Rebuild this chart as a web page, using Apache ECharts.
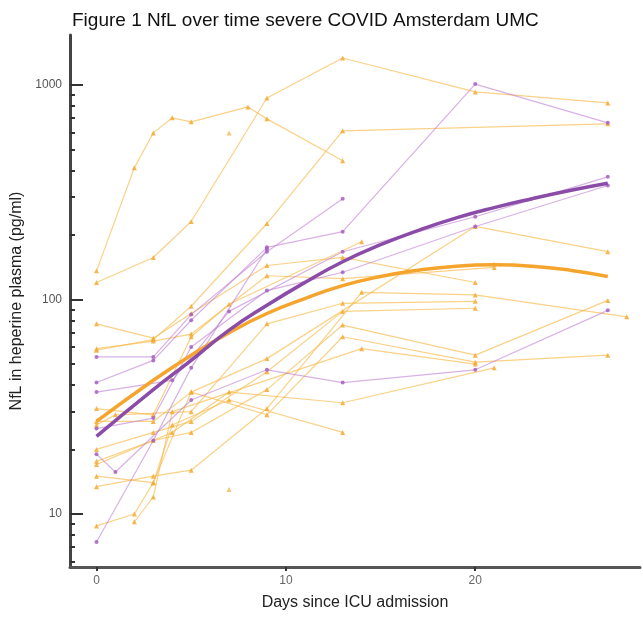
<!DOCTYPE html>
<html><head><meta charset="utf-8">
<script src="https://cdn.jsdelivr.net/npm/echarts@6/dist/echarts.min.js"></script>
<style>html,body{margin:0;padding:0;background:#fff}#c{width:643px;height:617px}</style>
</head><body><div id="c"></div>
<script>
const titleText = 'Figure 1 NfL over time severe COVID Amsterdam UMC';
const xTitle = 'Days since ICU admission';
const yTitle = 'NfL in heperine plasma (pg/ml)';
const xTicks = [0, 10, 20];
const yTicks = [10, 100, 1000];
const yMinor = [6,7,8,9,20,30,40,50,60,70,80,90,200,300,400,500,600,700,800,900];

// individual patients, orange group: [day, NfL]
const orangeTracks = [
  [[0,136],[2,411],[3,598],[4,703],[5,673],[8,790],[9,695],[13,443]],
  [[0,120],[3,157],[5,231],[9,870],[13,1336],[20,928],[27,825]],
  [[0,58],[3,65],[5,93],[9,226],[13,611],[27,659]],
  [[0,13.4],[3,15],[5,16],[9,31],[14,108],[20,105],[28,83]],
  [[0,77],[3,66],[5,86],[9,144],[13,157],[20,120]],
  [[0,59],[3,64],[5,69],[9,129],[13,125],[21,141]],
  [[0,31],[3,29],[5,67],[7,95],[14,186]],
  [[0,27],[3,27],[5,37],[9,53],[20,219],[27,167]],
  [[0,26],[1,29],[5,30],[9,77],[13,96],[20,98]],
  [[0,20],[3,24],[5,27],[9,46],[13,88],[20,91]],
  [[0,17.6],[3,22],[5,24],[9,38],[13,76],[20,55],[27,99]],
  [[0,17],[4,24],[7,37],[13,33],[21,48]],
  [[0,15],[3,14],[4,26],[7,34],[13,24]],
  [[0,8.8],[2,10],[3,14],[5,37],[9,29],[13,67],[20,51],[27,55]],
  [[2,9.2],[3,12],[4,30],[14,59],[20,50]]
];
const orangeSingles = [[7,598],[7,13],[21,146]];

// individual patients, purple group
const purpleTracks = [
  [[0,41],[3,52],[5,80],[9,175],[13,207],[20,1010],[27,666]],
  [[0,54],[3,54],[5,85],[9,167],[13,295]],
  [[0,25],[3,28],[5,60],[9,110],[13,134],[20,219],[27,340]],
  [[0,37],[4,42],[7,88],[13,167],[20,243],[27,373]],
  [[0,19],[1,15.7],[5,34],[9,47],[13,41],[20,47],[27,89]],
  [[0,7.4],[3,22],[5,48],[9,172]]
];

// group trend curves
const orangeFit = [[0,27],[3,42],[5,55],[7,70],[9,86],[11,101],[13,116],[15,128],[17,137],[19,143],[21,145],[23,143],[25,137],[27,128]];
const purpleFit = [[0,23],[3,38],[5,52],[7,72],[9,94],[11,120],[13,150],[15,180],[17,210],[19,240],[21,268],[23,295],[25,322],[27,348]];

const oLine = 'rgba(247,184,70,0.65)', oPt = 'rgba(245,170,50,0.85)';
const pLine = 'rgba(190,125,210,0.6)', pPt = 'rgba(165,95,190,0.85)';
const font = 'Liberation Sans';

const series = [];
orangeTracks.forEach(t => series.push({type:'line', data:t, symbol:'triangle', symbolSize:5,
  lineStyle:{color:oLine, width:1.2}, itemStyle:{color:oPt}, silent:true, z:2}));
series.push({type:'scatter', data:orangeSingles, symbol:'triangle', symbolSize:5, itemStyle:{color:oPt}, silent:true, z:2});
purpleTracks.forEach(t => series.push({type:'line', data:t, symbol:'circle', symbolSize:4,
  lineStyle:{color:pLine, width:1.2}, itemStyle:{color:pPt}, silent:true, z:3}));
series.push({type:'line', data:orangeFit, smooth:true, showSymbol:false, lineStyle:{color:'#F5A52E', width:3.5}, silent:true, z:4});
series.push({type:'line', data:purpleFit, smooth:true, showSymbol:false, lineStyle:{color:'#8A4CA8', width:3.5}, silent:true, z:5});

const chart = echarts.init(document.getElementById('c'), null, {renderer:'canvas'});
chart.setOption({
  animation:false,
  backgroundColor:'#fff',
  title:{text:titleText, left:67, top:6, textStyle:{fontSize:19, fontWeight:'normal', color:'#111', fontFamily:font}},
  grid:{left:70, right:3, top:35, bottom:50, containLabel:false},
  xAxis:{type:'value', min:-1.4, max:28.7,
    axisLine:{onZero:false, lineStyle:{color:'#555', width:3}},
    axisTick:{customValues:xTicks, length:4, lineStyle:{color:'#333', width:2}},
    axisLabel:{customValues:xTicks, color:'#666', fontSize:12, margin:8, fontFamily:font},
    splitLine:{show:false},
    name:xTitle, nameLocation:'middle', nameGap:28, nameTextStyle:{fontSize:16, color:'#222', fontFamily:font}},
  yAxis:[{type:'log', logBase:10, min:5.66, max:1710,
    axisLine:{onZero:false, lineStyle:{color:'#444', width:3}},
    axisTick:{customValues:yTicks, inside:true, length:13, lineStyle:{color:'#333', width:2}},
    axisLabel:{customValues:yTicks, color:'#555', fontSize:12, margin:8, fontFamily:font, formatter:v => String(v)},
    splitLine:{show:false},
    name:yTitle, nameLocation:'middle', nameGap:38, nameRotate:90, nameTextStyle:{fontSize:16, color:'#222', fontFamily:font}},
   {type:'log', logBase:10, min:5.66, max:1710, position:'left',
    axisLine:{show:false, onZero:false},
    axisTick:{customValues:yMinor, inside:true, length:5, lineStyle:{color:'#333', width:2}},
    axisLabel:{show:false}, splitLine:{show:false}}],
  series:series
});
</script></body></html>
